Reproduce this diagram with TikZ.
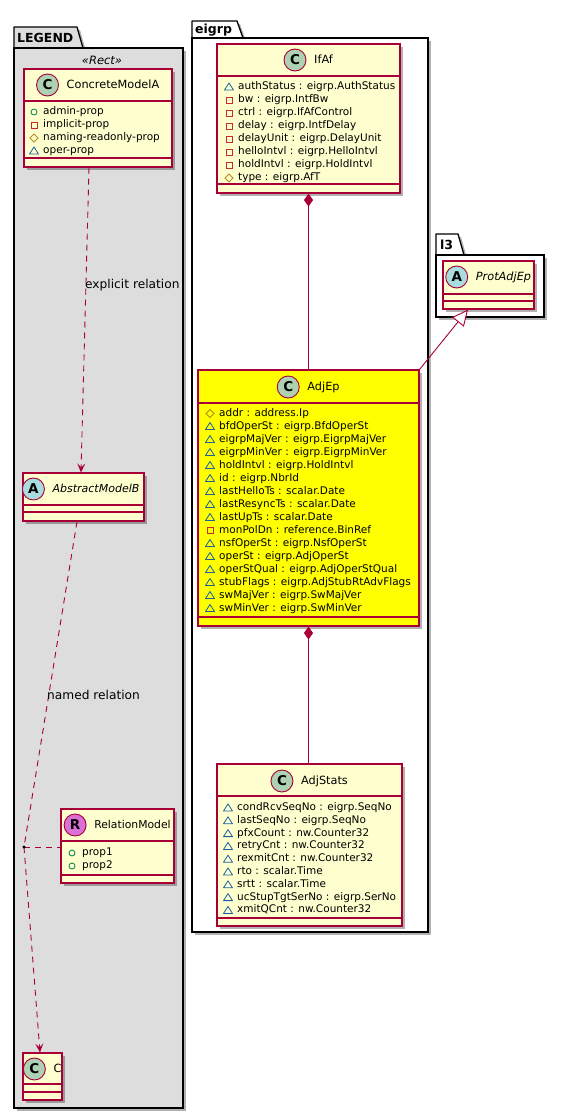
\documentclass[tikz,border=0pt]{standalone}
\usepackage{fontspec}
\setmainfont{DejaVu Sans}
\usetikzlibrary{shadows,arrows.meta,calc,fit}
\definecolor{umlred}{HTML}{A80036}
\definecolor{umlfill}{HTML}{FEFECE}
\definecolor{adjfill}{HTML}{FFFF00}
\definecolor{legbg}{HTML}{DDDDDD}
\definecolor{circC}{HTML}{ADD1B2}
\definecolor{circA}{HTML}{A9DCDF}
\definecolor{circR}{HTML}{DA70D6}
\definecolor{icpub}{HTML}{038048}
\definecolor{icpriv}{HTML}{C82930}
\definecolor{icprot}{HTML}{B38D22}
\definecolor{icpkg}{HTML}{1963A0}
\tikzset{
  shad/.style={drop shadow={shadow xshift=3pt,shadow yshift=-3pt,opacity=0.3,fill=black}},
  classbox/.style={draw=umlred, line width=1.1pt, rectangle, inner sep=0pt, shad},
  pkgbody/.style={draw=black, line width=1.3pt, rectangle, inner sep=0pt, shad},
  pkgtab/.style={draw=black, line width=1.3pt, line join=round},
  sepline/.style={draw=umlred, line width=1.1pt},
  cname/.style={inner sep=0pt, text height=8.5pt, text depth=2.5pt},
  letcirc/.style={circle, draw=umlred, line width=0.9pt, minimum size=22pt, inner sep=0pt, font=\fontsize{13.5}{14}\selectfont\bfseries},
  attr/.style={font=\fontsize{10.5}{12}\selectfont, anchor=west, inner sep=0pt, text height=7.5pt, text depth=2.5pt},
  pkgtitle/.style={font=\fontsize{12.5}{14}\selectfont\bfseries, anchor=west, inner sep=0pt},
  stereo/.style={font=\fontsize{11.5}{13}\selectfont\itshape, inner sep=0pt},
  elabel/.style={font=\fontsize{12.2}{14}\selectfont, anchor=west, inner sep=0pt},
  dep/.style={draw=umlred, line width=0.9pt, dash pattern=on 6pt off 5pt, -{Stealth[length=9pt,width=8pt,inset=4pt,fill=umlred]}},
  depline/.style={draw=umlred, line width=0.9pt, dash pattern=on 6pt off 5pt},
  comp/.style={draw=umlred, line width=0.9pt, {Diamond[length=13pt,width=9pt,fill=umlred]}-},
  inh/.style={draw=umlred, line width=0.9pt, -{Triangle[open,length=16pt,width=15pt,fill=white]}},
  icopubst/.style={draw=icpub, line width=0.8pt},
  icoprivst/.style={draw=icpriv, line width=0.8pt},
  icoprotst/.style={draw=icprot, line width=0.8pt},
  icopkgst/.style={draw=icpkg, line width=0.8pt, line join=round},
}
\newcommand\icopub[2]{\draw[icopubst] (#1,#2) circle (3);}
\newcommand\icopriv[2]{\draw[icoprivst] (#1-3,#2-3) rectangle (#1+3,#2+3);}
\newcommand\icoprot[2]{\draw[icoprotst] (#1-4,#2) -- (#1,#2-4) -- (#1+4,#2) -- (#1,#2+4) -- cycle;}
\newcommand\icopkg[2]{\draw[icopkgst] (#1-4.5,#2+3) -- (#1+4.5,#2+3) -- (#1,#2-4) -- cycle;}
% name, x1, y1, x2, y2, sep1, sep2, fill
\newcommand\umlclass[8]{%
  \node[classbox, fill=#8, fit={(#2,#3)(#4,#5)}] (#1) {};
  \draw[sepline] (#2,#6) -- (#4,#6);
  \draw[sepline] (#2,#7) -- (#4,#7);
}
% name, box centre x, y, letter, circle colour, text, extra font
\newcommand\umlhead[7]{%
  \node[cname, font=\fontsize{11.3}{13}\selectfont#7] (#1n) at (#2+15,#3) {#6};
  \node[letcirc, fill=#5] (#1c) at ($(#1n.west)+(-19,0)$) {#4};
}
% prefix, icon x, text x, first y, spacing, list
\newcommand\attrlist[6]{%
  \foreach \t/\s [count=\i from 0] in {#6} {
    \csname ico\t\endcsname{#2}{#4+#5*\i}
    \node[attr] (#1a\i) at (#3,#4+#5*\i) {\s};
  }
}
\begin{document}
\begin{tikzpicture}[x=1pt,y=-1pt]
\useasboundingbox (0,0) rectangle (562,1119);
\fill[white] (0,0) rectangle (562,1119);

% ---------- packages
\path[pkgtab, fill=legbg, shad] (14,48) -- (14,27) -- (77,27) -- (83,48) -- cycle;
\node[pkgbody, fill=legbg, fit={(14,48)(183,1108)}] (LEGEND) {};
\node[pkgtitle] (LEGENDt) at (17,37.5) {LEGEND};
\node[stereo] (LEGENDs) at (102,60) {«Rect»};

\path[pkgtab, fill=white, shad] (192,38) -- (192,21) -- (237,21) -- (243,38) -- cycle;
\node[pkgbody, fill=white, fit={(192,38)(428,932)}] (eigrp) {};
\node[pkgtitle] (eigrpt) at (195,30) {eigrp};

\path[pkgtab, fill=white, shad] (436,255) -- (436,234) -- (458,234) -- (464,255) -- cycle;
\node[pkgbody, fill=white, fit={(436,255)(544,317)}] (l3) {};
\node[pkgtitle] (l3t) at (440,245) {l3};

% ---------- legend classes
\umlclass{CMA}{24}{69}{172}{167}{101}{158}{umlfill}
\umlhead{CMA}{98}{85}{C}{circC}{ConcreteModelA}{}
\attrlist{CMA}{34}{43}{112}{13}{pub/admin-prop, priv/implicit-prop, prot/naming-readonly-prop, pkg/oper-prop}

\umlclass{AMB}{23}{473}{144}{521}{505}{512}{umlfill}
\umlhead{AMB}{81}{489}{A}{circA}{AbstractModelB}{\fontsize{11}{13}\selectfont\itshape}

\umlclass{RM}{61}{809}{174}{883}{841}{875}{umlfill}
\umlhead{RM}{117.5}{825}{R}{circR}{RelationModel}{\fontsize{10.8}{13}\selectfont}
\attrlist{RM}{72}{82}{853}{13}{pub/prop1, pub/prop2}

\umlclass{C}{23}{1053}{62}{1100}{1084}{1092}{umlfill}
\umlhead{C}{42.5}{1069}{C}{circC}{C}{}

% ---------- eigrp classes
\umlclass{IfAf}{217}{44}{400}{193}{76}{184}{umlfill}
\umlhead{IfAf}{308.5}{60}{C}{circC}{IfAf}{}
\attrlist{IfAf}{229}{238}{87}{13}{pkg/authStatus : eigrp.AuthStatus, priv/bw : eigrp.IntfBw, priv/ctrl : eigrp.IfAfControl, priv/delay : eigrp.IntfDelay, priv/delayUnit : eigrp.DelayUnit, priv/helloIntvl : eigrp.HelloIntvl, priv/holdIntvl : eigrp.HoldIntvl, prot/type : eigrp.AfT}

\umlclass{AdjEp}{198}{370}{419}{626}{403}{617}{adjfill}
\umlhead{AdjEp}{308.5}{387}{C}{circC}{AdjEp}{}
\attrlist{AdjEp}{210}{219}{413.5}{13}{prot/addr : address.Ip, pkg/bfdOperSt : eigrp.BfdOperSt, pkg/eigrpMajVer : eigrp.EigrpMajVer, pkg/eigrpMinVer : eigrp.EigrpMinVer, pkg/holdIntvl : eigrp.HoldIntvl, pkg/id : eigrp.NbrId, pkg/lastHelloTs : scalar.Date, pkg/lastResyncTs : scalar.Date, pkg/lastUpTs : scalar.Date, priv/monPolDn : reference.BinRef, pkg/nsfOperSt : eigrp.NsfOperSt, pkg/operSt : eigrp.AdjOperSt, pkg/operStQual : eigrp.AdjOperStQual, pkg/stubFlags : eigrp.AdjStubRtAdvFlags, pkg/swMajVer : eigrp.SwMajVer, pkg/swMinVer : eigrp.SwMinVer}

\umlclass{AdjStats}{217}{764}{402}{926}{796}{918}{umlfill}
\umlhead{AdjStats}{309.5}{781}{C}{circC}{AdjStats}{}
\attrlist{AdjStats}{228}{237}{808}{12.8}{pkg/condRcvSeqNo : eigrp.SeqNo, pkg/lastSeqNo : eigrp.SeqNo, pkg/pfxCount : nw.Counter32, pkg/retryCnt : nw.Counter32, pkg/rexmitCnt : nw.Counter32, pkg/rto : scalar.Time, pkg/srtt : scalar.Time, pkg/ucStupTgtSerNo : eigrp.SerNo, pkg/xmitQCnt : nw.Counter32}

% ---------- l3 class
\umlclass{PAE}{443}{261}{534}{309}{294}{301}{umlfill}
\umlhead{PAE}{488.5}{277}{A}{circA}{ProtAdjEp}{\itshape}

% ---------- connectors
\draw[dep] ($(CMA.south)+(-9,0)$) -- ($(AMB.north)+(-2.5,0)$);
\node[elabel] (explbl) at (85,285) {explicit relation};

\coordinate (rdot) at (24,847);
\draw[depline] ($(AMB.south)+(-6.5,0)$) -- (rdot);
\draw[dep] (rdot) -- ($(C.north)+(-2.5,0)$);
\draw[depline] (rdot) -- (rdot -| RM.west);
\fill (rdot) circle (1.6);
\node[elabel] (namedlbl) at (47,695) {named relation};

\draw[comp] (IfAf.south) -- (AdjEp.north);
\draw[comp] (AdjEp.south) -- (AdjStats.north -| AdjEp.south);
\draw[inh] (AdjEp.north east) -- ($(PAE.south)+(-20.5,0)$);
\end{tikzpicture}
\end{document}
